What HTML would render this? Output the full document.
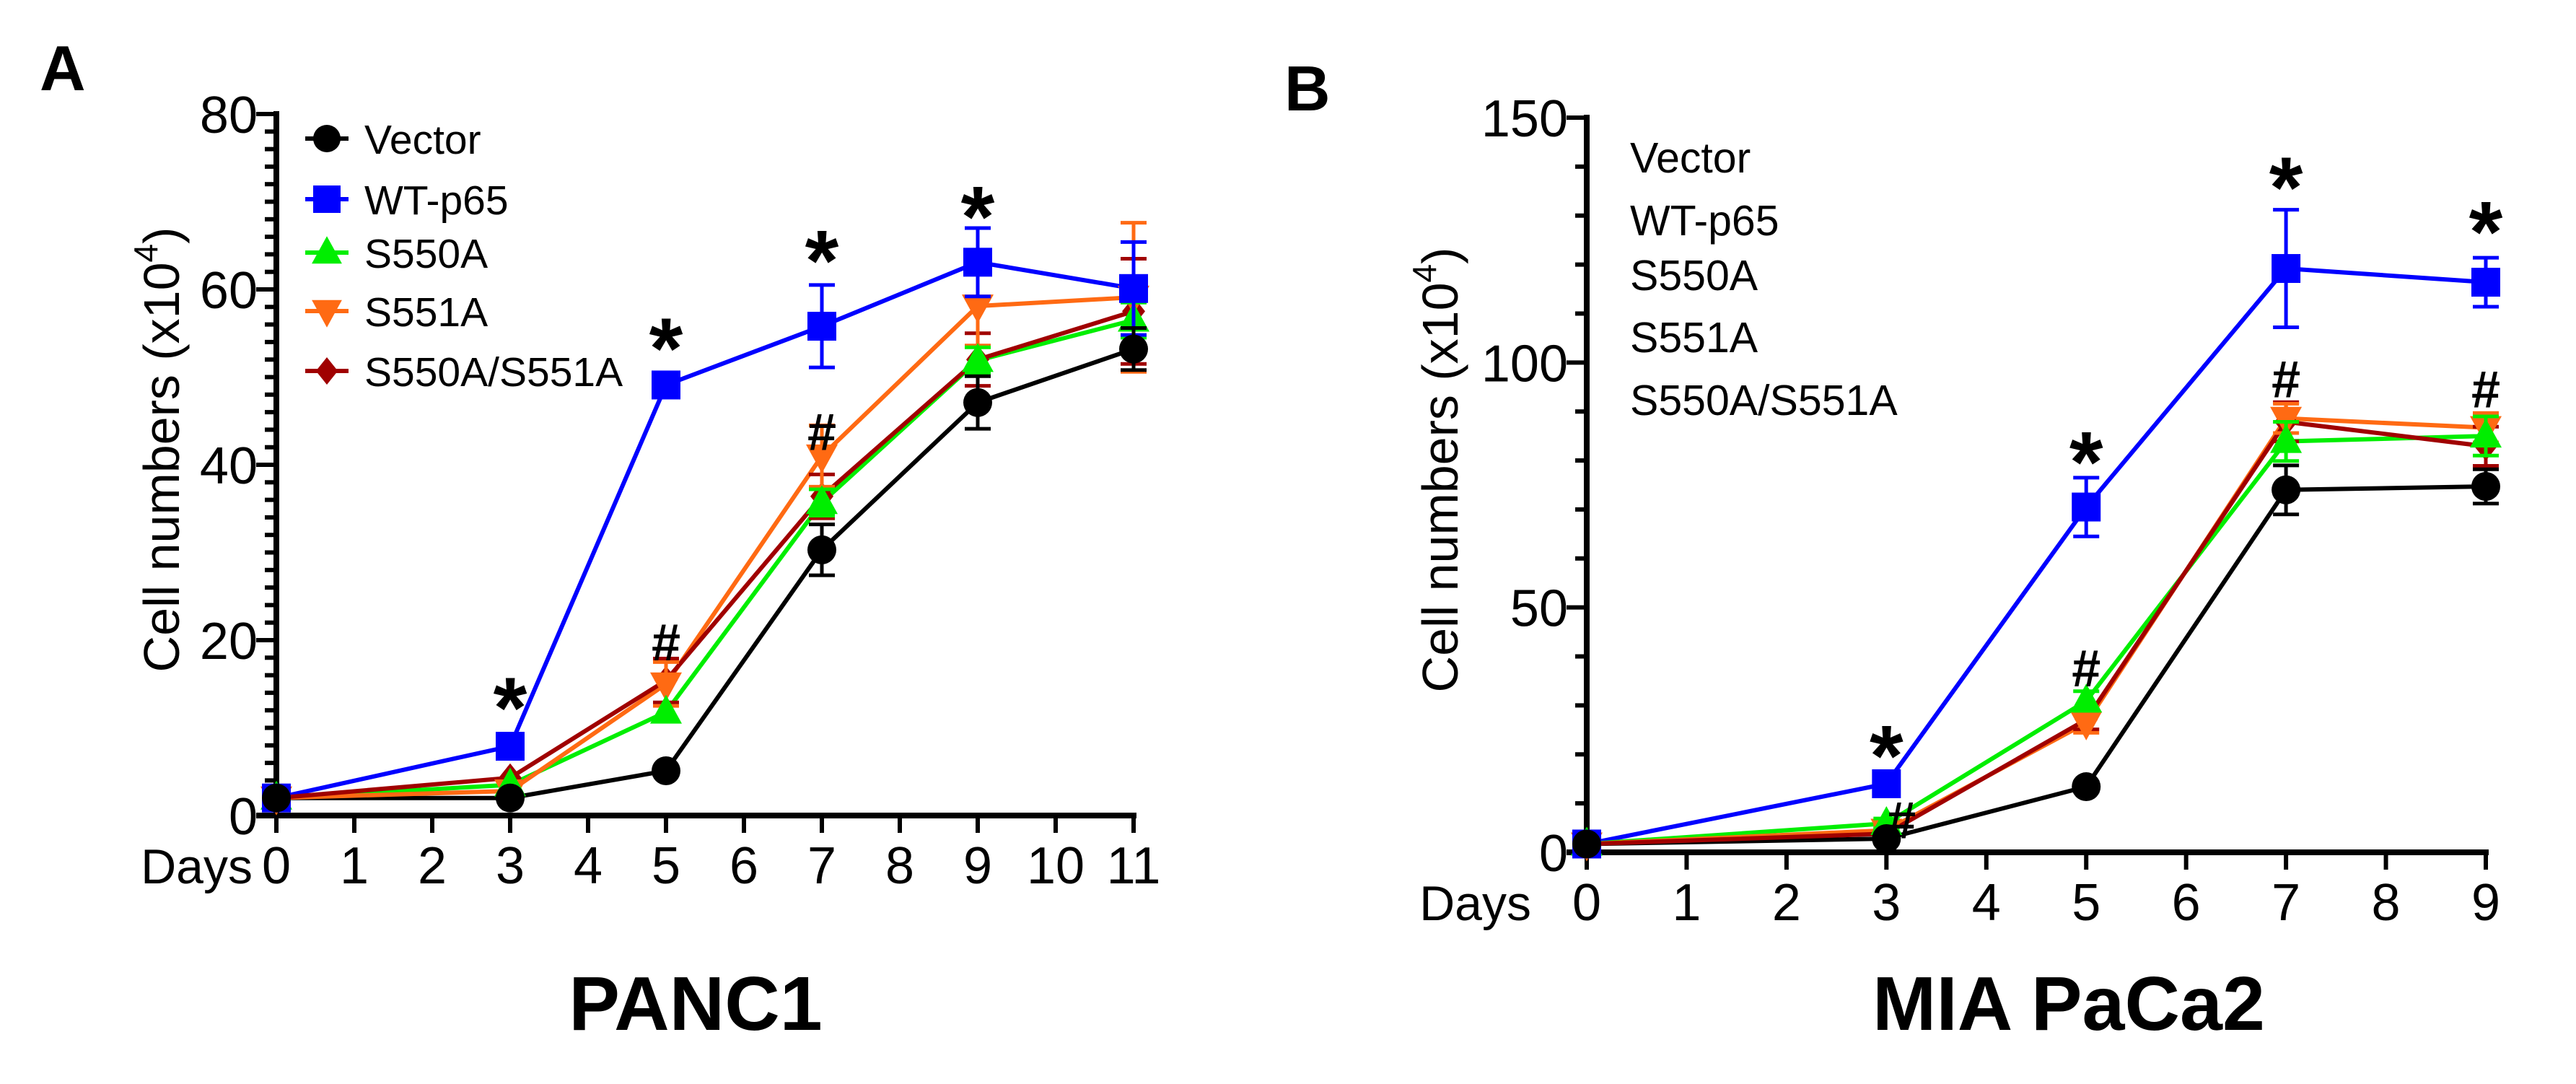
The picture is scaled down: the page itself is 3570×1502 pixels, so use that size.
<!DOCTYPE html>
<html><head><meta charset="utf-8"><style>
html,body{margin:0;padding:0;background:#fff}
svg{display:block}
text{font-family:"Liberation Sans",Arial,sans-serif}
</style></head><body>
<svg id="fig" width="3570" height="1502" viewBox="0 0 3570 1502" xmlns="http://www.w3.org/2000/svg">
<text x="55" y="125" font-size="88" font-weight="bold">A</text>
<text x="1780" y="153" font-size="88" font-weight="bold">B</text>
<text x="964" y="1427" font-size="106" font-weight="bold" text-anchor="middle">PANC1</text>
<text x="2867" y="1427" font-size="106" font-weight="bold" text-anchor="middle">MIA PaCa2</text>
<g id="pa"></g>
<g id="pb"></g>
</svg>
<script>
const seriesNames=["Vector","WT-p65","S550A","S551A","S550A/S551A"];
const seriesColors=["#000000","#0000ff","#00ee00","#ff6a13","#a00000"];
const seriesShapes=["circle","square","up","down","diamond"];

const daysA=[0,3,5,7,9,11];
const vectorA=[2,2,5.1,30.3,47.1,53.2];
const wtA=[2,7.9,49.1,55.8,63.1,60.1];
const s550A=[2,3.5,11.8,35.7,51.9,56.5];
const s551A=[2,2.8,15,41,58.1,59.1];
const dblA=[2,4.3,15.4,36.4,52,57.5];
const vectorErrA=[0,0,0,2.9,3,2.4];
const wtErrA=[0,0,0,4.7,3.9,5.3];
const s550ErrA=[0,0,0,1.5,1.5,2];
const s551ErrA=[0,0,2.5,3.5,4.5,8.5];
const dblErrA=[0,0,2.5,2.5,3,6];
const starDaysA=[3,5,7,9];
const starValsA=[13,54,64,69];
const hashDaysA=[5,7];
const hashValsA=[20,44];
const yTicksA=[0,20,40,60,80];
const xTicksA=[0,1,2,3,4,5,6,7,8,9,10,11];

const daysB=[0,3,5,7,9];
const vectorB=[1.7,2.8,13.4,74,74.7];
const wtB=[1.7,14,70.5,119.2,116.4];
const s550B=[1.7,5.9,30.9,83.9,85];
const s551B=[1.7,4.5,26.4,88.6,86.7];
const dblB=[1.7,3.8,27.1,87.9,82.9];
const vectorErrB=[0,1,1,5,3.5];
const wtErrB=[0,1.5,6,12,5];
const s550ErrB=[0,1,2,4,4];
const s551ErrB=[0,1,2,3,3];
const dblErrB=[0,1,2,4,4];
const starDaysB=[3,5,7,9];
const starValsB=[21,81,137,128];
const hashDaysB=[3.15,5,7,9];
const hashValsB=[7,38,97,95];
const yTicksB=[0,50,100,150];
const xTicksB=[0,1,2,3,4,5,6,7,8,9];

const NS="http://www.w3.org/2000/svg";
function mk(parent,tag,attrs){const e=document.createElementNS(NS,tag);for(const k in attrs)e.setAttribute(k,attrs[k]);parent.appendChild(e);return e;}

function marker(g,shape,cx,cy,color,r){
  let e;
  if(shape==="circle"){e=mk(g,"circle",{cx:cx,cy:cy,r:r,fill:color});}
  else if(shape==="square"){e=mk(g,"rect",{x:cx-r,y:cy-r,width:2*r,height:2*r,fill:color});}
  else if(shape==="up"){e=mk(g,"polygon",{points:`${cx},${cy-r*1.2} ${cx+r*1.1},${cy+r*0.8} ${cx-r*1.1},${cy+r*0.8}`,fill:color});}
  else if(shape==="down"){e=mk(g,"polygon",{points:`${cx},${cy+r*1.2} ${cx+r*1.1},${cy-r*0.8} ${cx-r*1.1},${cy-r*0.8}`,fill:color});}
  else {e=mk(g,"polygon",{points:`${cx},${cy-r} ${cx+r*0.8},${cy} ${cx},${cy+r} ${cx-r*0.8},${cy}`,fill:color});}
  return e;
}

function drawPanel(g,cfg){
  const xs=d=>cfg.x0+(d-cfg.xmin)*(cfg.x1-cfg.x0)/(cfg.xmax-cfg.xmin);
  const ys=v=>cfg.y0-(v-cfg.ymin)*(cfg.y0-cfg.y1)/(cfg.ymax-cfg.ymin);
  // axes
  const ya=mk(g,"line",{x1:cfg.x0,y1:ys(cfg.ymax)-4,x2:cfg.x0,y2:cfg.y0+4,stroke:"#000","stroke-width":8});
  
  
  const xa=mk(g,"line",{x1:cfg.x0-28,y1:cfg.y0,x2:xs(cfg.xmax)+4,y2:cfg.y0,stroke:"#000","stroke-width":8});
  
  
  for(let v=cfg.ymin;v<=cfg.ymax;v+=cfg.minor){
    const major=cfg.yTicks.includes(v);
    const t=mk(g,"line",{x1:cfg.x0-(major?28:16),y1:ys(v),x2:cfg.x0,y2:ys(v),stroke:"#000","stroke-width":6});
    
    
  }
  cfg.yTicks.forEach(v=>{
    const t=mk(g,"text",{x:cfg.x0-26,y:ys(v)+26,"font-size":72,"text-anchor":"end"});
    t.textContent=v;
    
    
  });
  cfg.xTicks.forEach(d=>{
    const t=mk(g,"line",{x1:xs(d),y1:cfg.y0,x2:xs(d),y2:cfg.y0+24,stroke:"#000","stroke-width":6});
    
    
    const l=mk(g,"text",{x:xs(d),y:cfg.y0+94,"font-size":72,"text-anchor":"middle"});
    l.textContent=d;
    
    
  });
  const dl=mk(g,"text",{x:cfg.daysX,y:cfg.y0+94,"font-size":68,"text-anchor":"end"});
  dl.textContent="Days";
  
  
  const yt=mk(g,"text",{transform:`translate(${cfg.ytX},${cfg.ytY}) rotate(-90)`,"font-size":70,"text-anchor":"middle"});
  yt.innerHTML='Cell numbers (x10<tspan font-size="46" dy="-30">4</tspan><tspan dy="30">)</tspan>';
  
  
  // series lines
  cfg.series.forEach((s,i)=>{
    const pts=cfg.days.map((d,j)=>xs(d)+","+ys(s[j])).join(" ");
    const pl=mk(g,"polyline",{points:pts,fill:"none",stroke:seriesColors[i],"stroke-width":6});
    
    
  });
  // error bars and markers (draw order so vector on top like reference)
  [4,3,2,1,0].forEach(i=>{
    const s=cfg.series[i],er=cfg.errs[i];
    cfg.days.forEach((d,j)=>{
      if(er[j]>0){
        const x=xs(d),yt=ys(s[j]+er[j]),yb=ys(s[j]-er[j]);
        const eb=mk(g,"path",{d:`M${x},${yt}L${x},${yb}M${x-18},${yt}L${x+18},${yt}M${x-18},${yb}L${x+18},${yb}`,stroke:seriesColors[i],"stroke-width":5,fill:"none"});
        
        
      }
      const m=marker(g,seriesShapes[i],xs(d),ys(s[j]),seriesColors[i],20);
      
      
    });
  });
  cfg.starDays.forEach((d,j)=>{
    const t=mk(g,"text",{x:xs(d),y:ys(cfg.starVals[j])+50,"font-size":120,"font-weight":"bold","text-anchor":"middle"});
    t.textContent="*";
    
    
  });
  cfg.hashDays.forEach((d,j)=>{
    const t=mk(g,"text",{x:xs(d),y:ys(cfg.hashVals[j])+28,"font-size":72,"font-weight":"bold","text-anchor":"middle"});
    t.textContent="#";
    
    
  });
  // legend
  seriesNames.forEach((n,i)=>{
    const y=cfg.legY[i];
    if(cfg.legMarkers){
      const lm=mk(g,"line",{x1:cfg.legMX-30,y1:y,x2:cfg.legMX+30,y2:y,stroke:seriesColors[i],"stroke-width":6});
      
      
      const m=marker(g,seriesShapes[i],cfg.legMX,y,seriesColors[i],19);
      
      
    }
    const t=mk(g,"text",{x:cfg.legX,y:y+21,"font-size":cfg.legFs});
    t.textContent=n;
    
    
  });
}

drawPanel(document.getElementById("pa"),{
  x0:383,x1:1571,xmin:0,xmax:11,y0:1130,y1:158,ymin:0,ymax:80,minor:2,
  yTicks:yTicksA,xTicks:xTicksA,days:daysA,
  series:[vectorA,wtA,s550A,s551A,dblA],errs:[vectorErrA,wtErrA,s550ErrA,s551ErrA,dblErrA],
  starDays:starDaysA,starVals:starValsA,hashDays:hashDaysA,hashVals:hashValsA,
  daysX:350,ytX:248,ytY:623,legMarkers:true,legMX:453,legX:505,legY:[192,276,350,431,514],legFs:57
});
drawPanel(document.getElementById("pb"),{
  x0:2199,x1:3445,xmin:0,xmax:9,y0:1181,y1:163,ymin:0,ymax:150,minor:10,
  yTicks:yTicksB,xTicks:xTicksB,days:daysB,
  series:[vectorB,wtB,s550B,s551B,dblB],errs:[vectorErrB,wtErrB,s550ErrB,s551ErrB,dblErrB],
  starDays:starDaysB,starVals:starValsB,hashDays:hashDaysB,hashVals:hashValsB,
  daysX:2122,ytX:2020,ytY:651,legMarkers:false,legMX:0,legX:2259,legY:[218,305,381,467,554],legFs:59
});
</script>
</body></html>
